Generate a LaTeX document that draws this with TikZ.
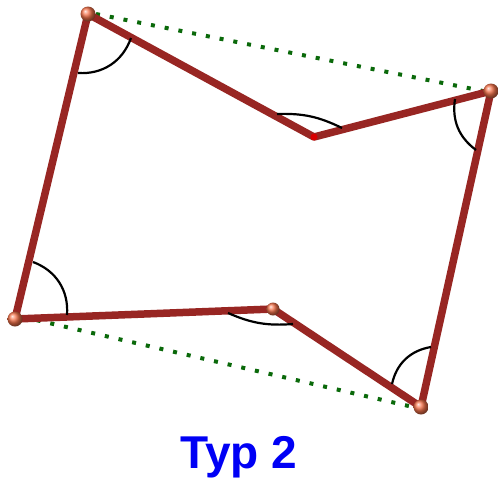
\documentclass[tikz,border=0pt]{standalone}
\usepackage{fontspec}
\setmainfont{Liberation Sans}
\definecolor{edgered}{RGB}{152,38,35}
\definecolor{dotgreen}{RGB}{10,105,10}
\definecolor{ballred}{RGB}{245,115,75}
\definecolor{labelblue}{RGB}{0,0,245}
\begin{document}
\begin{tikzpicture}[x=1pt,y=-1pt,
  edge/.style={draw=edgered,line width=7.5pt,line cap=round,line join=round},
  helper/.style={draw=dotgreen,line width=4pt,dash pattern=on 4pt off 10pt},
  anglemark/.style={draw=black,line width=2.2pt},
  vball/.style={circle,shading=ball,ball color=ballred,inner sep=0pt,minimum size=15pt},
  smallball/.style={circle,fill=red!85!black,inner sep=0pt,minimum size=7pt},
  lbl/.style={text=labelblue,font=\fontsize{46}{50}\selectfont\bfseries}]
\useasboundingbox (0,0) rectangle (498,485);
\coordinate (A) at (88,14);
\coordinate (B) at (314,137);
\coordinate (C) at (491,91);
\coordinate (D) at (421,407);
\coordinate (E) at (273,309);
\coordinate (F) at (15,319);
% helper dotted lines
\draw[helper] ([xshift=8pt]A) -- ([xshift=-8pt]C);
\draw[helper] ([xshift=8pt,yshift=2pt]F) -- ([xshift=-8pt]D);
% polygon
\draw[edge] (A) -- (B) -- (C) -- (D) -- (E) -- (F) -- cycle;
% angle marks
\coordinate (aS) at (78,73);  \coordinate (aT) at (131,38);
\coordinate (bS) at (277,114); \coordinate (bT) at (342,128);
\coordinate (cS) at (455,99); \coordinate (cT) at (476,150);
\coordinate (dS) at (392,384); \coordinate (dT) at (431,347);
\coordinate (eS) at (228,313); \coordinate (eT) at (293,324);
\coordinate (fS) at (33,262);  \coordinate (fT) at (67,315);
\draw[anglemark] (aS) to[bend right=37] (aT);
\draw[anglemark] (bS) to[bend left=14] (bT);
\draw[anglemark] (cS) to[bend right=31] (cT);
\draw[anglemark] (dS) to[bend left=34] (dT);
\draw[anglemark] (eS) to[bend right=14] (eT);
\draw[anglemark] (fS) to[bend left=37] (fT);
% vertex balls
\node[vball] (bA) at (A) {};
\node[smallball] (bB) at (B) {};
\node[vball] (bC) at (C) {};
\node[vball] (bD) at (D) {};
\node[vball,minimum size=13pt] (bE) at (E) {};
\node[vball] (bF) at (F) {};
% label
\node[lbl] (title) at (239,457) {Typ 2};
\end{tikzpicture}
\end{document}
